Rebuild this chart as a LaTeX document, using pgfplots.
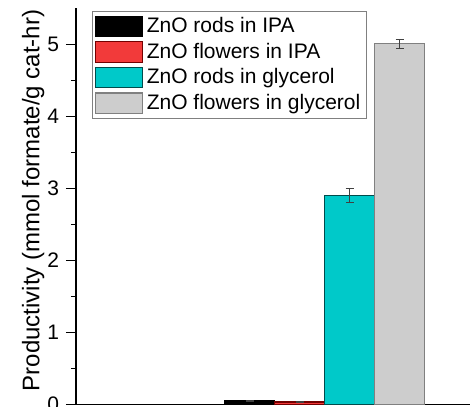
\documentclass[border=0pt]{standalone}
\usepackage{pgfplots}
\pgfplotsset{compat=1.18}
\usepackage{fontspec}
\setmainfont{Liberation Sans}
\definecolor{myred}{HTML}{F23A3A}
\definecolor{mycyan}{HTML}{00C9C9}
\definecolor{mygray}{HTML}{CDCDCD}
\begin{document}
\begin{tikzpicture}
\begin{axis}[
 x=25pt, y=36pt, xmin=0, xmax=8.5, ymin=0, ymax=5.5,
 axis x line=bottom, axis y line=left,
 axis line style={-, line width=0.8pt},
 xtick=\empty, ytick={0,1,2,3,4,5}, minor y tick num=1,
 tick align=outside, major tick length=5pt, minor tick length=2.5pt,
 tick style={line width=0.6pt, black},
 yticklabel style={font=\fontsize{10.5}{12}\selectfont},
 /pgf/number format/assume math mode=true,
 ylabel={Productivity (mmol formate/g cat-hr)},
 ylabel style={font=\fontsize{12}{14}\selectfont, at={(axis description cs:-0.101,0.515)}, anchor=center},
 ybar=0pt, bar width=25pt,
 clip=false,
 legend style={at={(axis description cs:0.0376,0.9945)}, anchor=north west, draw=gray, line width=0.6pt,
   font=\fontsize{10.5}{12}\selectfont, inner sep=1pt, row sep=-0.3pt},
 legend cell align=left,
 legend image code/.code={\draw[#1] (0pt,-5.1pt) rectangle (23.5pt,5.1pt);},
 error bars/error bar style={line width=0.5pt, darkgray},
 error bars/error mark options={rotate=90, mark size=2pt, line width=0.5pt, darkgray},
]
\addplot[fill=black, draw=black, line width=0.6pt, error bars/.cd, y dir=both, y explicit] coordinates {(4.97,0.05) +- (0,0.01)};
\addplot[fill=myred, draw=red!45!black, line width=0.6pt, error bars/.cd, y dir=both, y explicit] coordinates {(4.97,0.035) +- (0,0.01)};
\addplot[fill=mycyan, draw=teal!60!black, line width=0.6pt, error bars/.cd, y dir=both, y explicit] coordinates {(4.97,2.90) +- (0,0.10)};
\addplot[fill=mygray, draw=gray, line width=0.6pt, error bars/.cd, y dir=both, y explicit] coordinates {(4.97,5.01) +- (0,0.06)};
\legend{ZnO rods in IPA, ZnO flowers in IPA, ZnO rods in glycerol, ZnO flowers in glycerol}
\coordinate (bl) at (axis cs:-1.52,-0.021);
\coordinate (tr) at (axis cs:7.88,5.618);
\end{axis}
\pgfresetboundingbox
\path[use as bounding box] (bl) rectangle (tr);
\end{tikzpicture}
\end{document}
